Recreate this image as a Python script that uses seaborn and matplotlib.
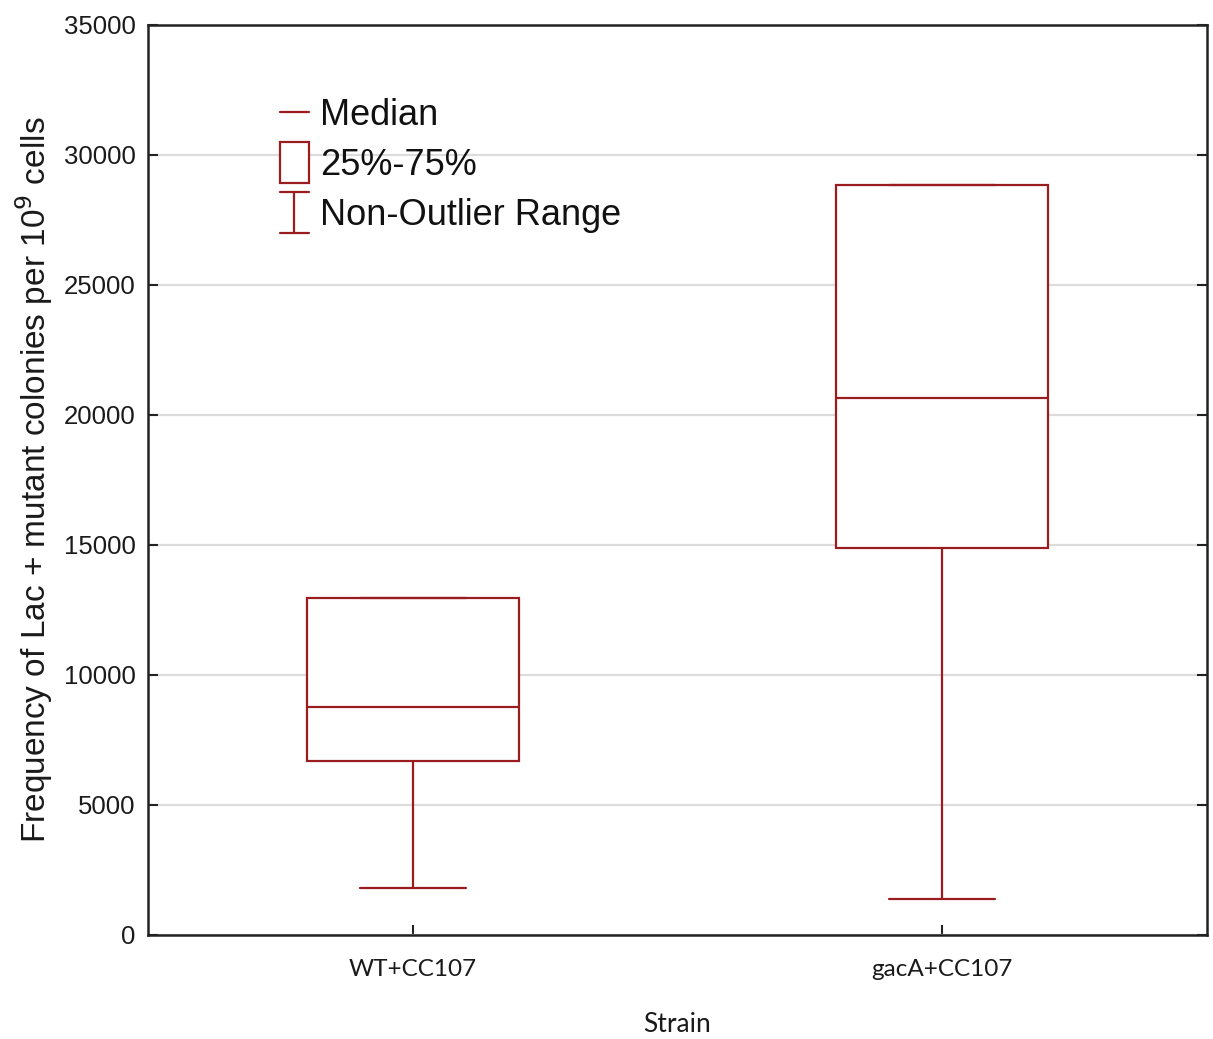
import numpy as np
import pandas as pd
import matplotlib
matplotlib.use("Agg")
import matplotlib.pyplot as plt
import seaborn as sns
from matplotlib.legend_handler import HandlerBase
from matplotlib.lines import Line2D
from matplotlib.patches import Rectangle

# ---- data ----
categories = ["WT+CC107", "gacA+CC107"]
whisker_low = [1800, 1400]
q1 = [6700, 14900]
medians = [8770, 20650]
q3 = [12960, 28850]
whisker_high = [12960, 28850]
yticks = [0, 5000, 10000, 15000, 20000, 25000, 30000, 35000]

# five values per group reproduce exactly these quartiles with whis=(0, 100)
rows = []
for i, c in enumerate(categories):
    for v in (whisker_low[i], q1[i], medians[i], q3[i], whisker_high[i]):
        rows.append({"Strain": c, "value": v})
df = pd.DataFrame(rows)

RED = "#9A1C1F"

sns.set_theme(style="whitegrid")
plt.rcParams["font.family"] = ["Liberation Sans", "DejaVu Sans"]

fig = plt.figure(figsize=(12.13, 10.39), dpi=100)
ax = fig.add_axes([148 / 1213, 104 / 1039, (1207 - 148) / 1213, (935 - 25) / 1039])

sns.boxplot(data=df, x="Strain", y="value", order=categories, whis=(0, 100),
            width=0.4, color="white", linecolor=RED, linewidth=1.6,
            saturation=1, showfliers=False, ax=ax)

ax.set_xlim(-0.5, 1.5)
ax.set_ylim(0, 35000)
ax.set_yticks(yticks)
ax.set_yticklabels([str(t) for t in yticks], fontsize=18.5)
ax.set_xticks(range(len(categories)))
ax.set_xticklabels(categories, fontfamily=["Lato", "DejaVu Sans"], fontsize=17.5)

ax.grid(axis="y", color="#dcdcdc", linewidth=1.6)
ax.grid(axis="x", visible=False)
ax.set_axisbelow(True)
for s in ax.spines.values():
    s.set_visible(True)
    s.set_color("#222222")
    s.set_linewidth(1.8)
ax.tick_params(axis="both", direction="in", length=7, width=1.5, color="#222222",
               left=True, bottom=True, right=True, labelcolor="#1a1a1a")
ax.tick_params(axis="y", pad=9)
ax.tick_params(axis="x", pad=17)
ax.yaxis.set_ticks_position("both")

ax.set_xlabel("Strain", fontfamily=["Lato", "DejaVu Sans"], fontsize=19, labelpad=23,
              color="#1a1a1a")
ax.set_ylabel("Frequency of Lac + mutant colonies per 10$^9$ cells", fontsize=24,
              labelpad=6, color="#1a1a1a")


# ---- custom legend glyphs ----
class MedianHandler(HandlerBase):
    def create_artists(self, legend, orig, xd, yd, w, h, fs, trans):
        y = h / 2 - yd
        return [Line2D([-xd, -xd + w], [y, y], color=RED, lw=1.6, transform=trans)]


class BoxHandler(HandlerBase):
    def create_artists(self, legend, orig, xd, yd, w, h, fs, trans):
        ext = 0.3 * h
        return [Rectangle((-xd, -yd - ext), w, h + 2 * ext, facecolor="white",
                          edgecolor=RED, lw=1.6, transform=trans)]


class WhiskerHandler(HandlerBase):
    def create_artists(self, legend, orig, xd, yd, w, h, fs, trans):
        ext = 0.3 * h
        y0, y1 = -yd - ext, -yd + h + ext
        xm = -xd + w / 2
        return [Line2D([xm, xm], [y0, y1], color=RED, lw=1.6, transform=trans),
                Line2D([-xd, -xd + w], [y0, y0], color=RED, lw=1.6, transform=trans),
                Line2D([-xd, -xd + w], [y1, y1], color=RED, lw=1.6, transform=trans)]


hm, hb, hw = object(), object(), object()
leg = ax.legend([hm, hb, hw], ["Median", "25%-75%", "Non-Outlier Range"],
                handler_map={hm: MedianHandler(), hb: BoxHandler(), hw: WhiskerHandler()},
                loc="upper left", bbox_to_anchor=(0.125, 0.92), frameon=False,
                fontsize=26, handlelength=0.78, handletextpad=0.33, labelspacing=0.42,
                borderpad=0, borderaxespad=0)
for t in leg.get_texts():
    t.set_color("#111111")

fig.savefig("out.png", dpi=100)
